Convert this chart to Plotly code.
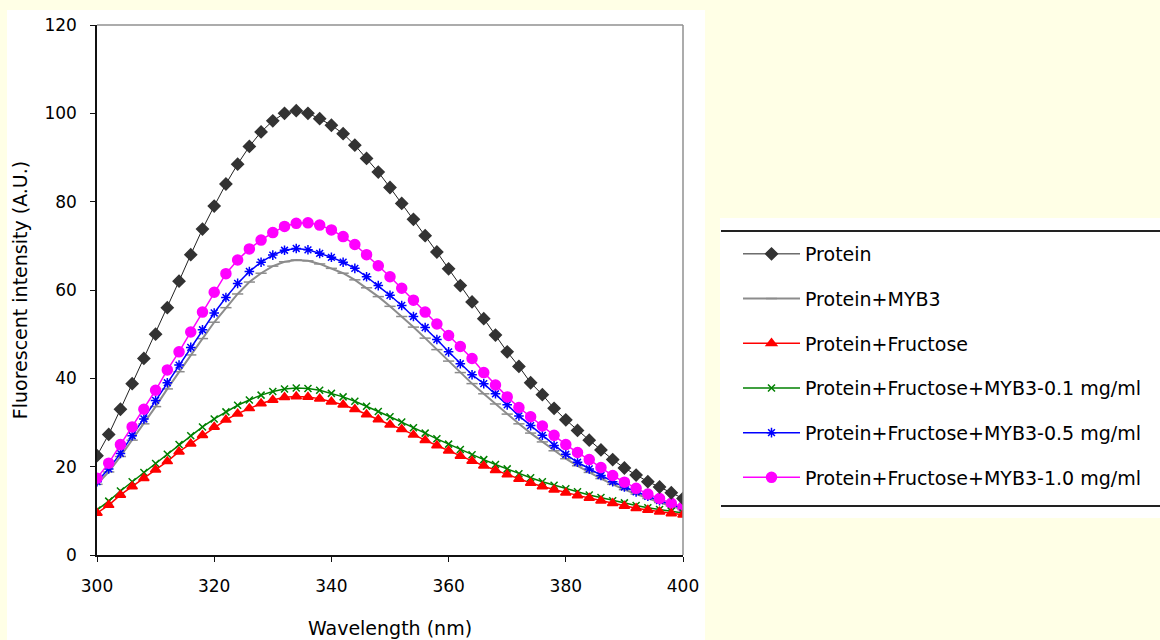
import plotly.graph_objects as go

wavelength = list(range(300, 401, 2))

protein = [22.5, 27.3, 33.0, 38.8, 44.5, 50.0, 56.0, 62.0, 68.0, 73.8,
           79.0, 84.0, 88.5, 92.5, 95.8, 98.3, 100.0, 100.6, 100.0, 98.8,
           97.3, 95.4, 92.8, 89.8, 86.7, 83.2, 79.6, 76.0, 72.3, 68.6,
           64.8, 61.0, 57.3, 53.5, 49.8, 46.0, 42.7, 39.0, 36.3, 33.2,
           30.6, 28.2, 26.0, 23.8, 21.6, 19.7, 18.1, 16.6, 15.4, 14.1, 12.8]

protein_myb3 = [16.0, 18.8, 22.3, 26.0, 29.7, 33.6, 37.6, 41.5, 45.3, 49.0,
                52.7, 56.0, 59.1, 61.8, 63.8, 65.4, 66.4, 66.8, 66.6, 65.9,
                64.9, 63.8, 62.3, 60.5, 58.5, 56.3, 54.0, 51.6, 49.1, 46.5,
                43.9, 41.3, 38.8, 36.5, 34.2, 31.9, 29.7, 27.6, 25.6, 23.6,
                21.8, 20.2, 18.7, 17.3, 16.0, 14.8, 13.8, 12.8, 11.9, 11.1, 10.3]

protein_fructose = [9.5, 11.3, 13.6, 15.5, 17.4, 19.3, 21.2, 23.4, 25.2, 27.1,
                    29.0, 30.6, 32.0, 33.2, 34.3, 35.1, 35.7, 35.9, 35.8, 35.4,
                    34.7, 34.0, 33.0, 31.8, 30.7, 29.5, 28.5, 27.2, 26.0, 24.8,
                    23.6, 22.4, 21.3, 20.2, 19.2, 18.2, 17.2, 16.3, 15.5, 14.8,
                    14.1, 13.5, 12.9, 12.3, 11.7, 11.1, 10.6, 10.2, 9.8, 9.4, 9.1]

pf_myb3_01 = [10.2, 12.2, 14.5, 16.6, 18.7, 20.7, 22.8, 25.0, 27.0, 29.0,
              30.8, 32.4, 33.9, 35.1, 36.2, 37.0, 37.6, 37.8, 37.7, 37.3,
              36.6, 35.8, 34.8, 33.7, 32.5, 31.3, 30.1, 28.8, 27.6, 26.3,
              25.1, 23.9, 22.7, 21.6, 20.5, 19.5, 18.4, 17.5, 16.6, 15.8,
              15.0, 14.3, 13.6, 13.0, 12.3, 11.8, 11.2, 10.7, 10.3, 9.9, 9.5]

pf_myb3_05 = [16.6, 19.5, 23.0, 27.0, 30.8, 35.0, 39.0, 43.0, 47.0, 51.0,
              54.8, 58.3, 61.5, 64.2, 66.3, 67.9, 69.0, 69.4, 69.1, 68.3,
              67.4, 66.3, 64.9, 63.0, 61.0, 58.8, 56.5, 54.0, 51.5, 48.8,
              46.0, 43.3, 40.8, 38.8, 36.5, 34.0, 31.5, 29.3, 27.1, 24.8,
              22.8, 21.0, 19.5, 18.0, 16.6, 15.4, 14.3, 13.3, 12.3, 11.4, 10.6]

pf_myb3_10 = [17.4, 20.8, 25.0, 29.0, 33.0, 37.3, 41.9, 46.0, 50.5, 55.0,
              59.5, 63.7, 66.8, 69.3, 71.3, 73.0, 74.4, 75.1, 75.2, 74.7,
              73.6, 72.1, 70.3, 68.0, 65.5, 63.0, 60.4, 57.7, 55.0, 52.3,
              49.7, 47.2, 44.5, 41.3, 38.5, 35.8, 33.4, 31.3, 29.2, 27.1,
              25.0, 23.2, 21.6, 19.8, 18.0, 16.5, 15.1, 13.8, 12.8, 11.7, 10.9]

series_names = ["Protein", "Protein+MYB3", "Protein+Fructose",
                "Protein+Fructose+MYB3-0.1 mg/ml",
                "Protein+Fructose+MYB3-0.5 mg/ml",
                "Protein+Fructose+MYB3-1.0 mg/ml"]
series_values = [protein, protein_myb3, protein_fructose,
                 pf_myb3_01, pf_myb3_05, pf_myb3_10]

x_ticks = [300, 320, 340, 360, 380, 400]
y_ticks = [0, 20, 40, 60, 80, 100, 120]

styles = [
    dict(lc="#222222", lw=1, mc="#333333", sym="diamond", ms=9),
    dict(lc="#8c8c8c", lw=2, mc="#8c8c8c", sym="line-ew-open", ms=8),
    dict(lc="#ff0000", lw=1.5, mc="#ff0000", sym="triangle-up", ms=9),
    dict(lc="#008000", lw=1.5, mc="#008000", sym="x-thin-open", ms=7),
    dict(lc="#0000ff", lw=1.5, mc="#0000ff", sym="asterisk-open", ms=8),
    dict(lc="#ff00ff", lw=1.5, mc="#ff00ff", sym="circle", ms=10),
]

fig = go.Figure()
draw_order = [1, 4, 5, 0, 3, 2]
for i in draw_order:
    st = styles[i]
    fig.add_trace(go.Scatter(
        x=wavelength, y=series_values[i], name=series_names[i],
        mode="lines+markers", legendgroup=f"g{i}", legendrank=i + 1,
        line=dict(color=st["lc"], width=st["lw"]),
        marker=dict(symbol=st["sym"], size=st["ms"], color=st["mc"],
                    line=dict(color=st["mc"], width=1.5)),
    ))

W, H = 1160, 640
L, R, T, B = 97, 477, 25, 85
pw, ph = W - L - R, H - T - B

def px(xp):
    return (xp - L) / pw

def py(yp):
    return (H - B - yp) / ph

shapes = [
    dict(type="rect", xref="paper", yref="paper", layer="below",
         x0=px(7), x1=px(705), y0=py(640), y1=py(10),
         fillcolor="white", line=dict(width=0)),
    dict(type="rect", xref="paper", yref="paper", layer="below",
         x0=px(720), x1=px(1162), y0=py(518), y1=py(218),
         fillcolor="white", line=dict(width=0)),
    dict(type="line", xref="paper", yref="paper",
         x0=px(721), x1=px(1162), y0=py(231), y1=py(231),
         line=dict(color="#222222", width=2)),
    dict(type="line", xref="paper", yref="paper",
         x0=px(721), x1=px(1162), y0=py(506), y1=py(506),
         line=dict(color="#222222", width=2)),
    dict(type="line", xref="paper", yref="paper",
         x0=0, x1=1, y0=1, y1=1, line=dict(color="#909090", width=1.5)),
    dict(type="line", xref="paper", yref="paper",
         x0=1, x1=1, y0=0, y1=1, line=dict(color="#909090", width=1.5)),
]

FONT = "DejaVu Sans, Arial, sans-serif"
tick_font = dict(family=FONT, size=17, color="black")
title_font = dict(family=FONT, size=19, color="black")

fig.update_layout(
    width=W, height=H,
    margin=dict(l=L, r=R, t=T, b=B, pad=0),
    paper_bgcolor="#ffffe6",
    plot_bgcolor="white",
    font=dict(family=FONT, size=14, color="black"),
    shapes=shapes,
    showlegend=True,
    legend=dict(
        x=px(738), y=py(235), xanchor="left", yanchor="top",
        bgcolor="rgba(0,0,0,0)", borderwidth=0,
        font=dict(family=FONT, size=19, color="black"),
        traceorder="grouped", tracegroupgap=17,
        itemwidth=57,
    ),
    xaxis=dict(
        range=[300, 400], tickvals=x_ticks, ticktext=[str(v) for v in x_ticks],
        showgrid=False, zeroline=False, automargin=False,
        showline=True, linecolor="#111111", linewidth=1.5,
        ticks="outside", ticklen=5, tickwidth=1, tickcolor="#111111",
        ticklabelstandoff=10, tickfont=tick_font,
        title=dict(text="Wavelength (nm)", standoff=27, font=title_font),
    ),
    yaxis=dict(
        range=[0, 120], tickvals=y_ticks, ticktext=[str(v) for v in y_ticks],
        showgrid=False, zeroline=False, automargin=False,
        showline=True, linecolor="#111111", linewidth=1.5,
        ticks="outside", ticklen=5, tickwidth=1, tickcolor="#111111",
        ticklabelstandoff=10, tickfont=tick_font,
        title=dict(text="Fluorescent intensity (A.U.)", standoff=12, font=title_font),
    ),
)

fig.write_html("out.html")
